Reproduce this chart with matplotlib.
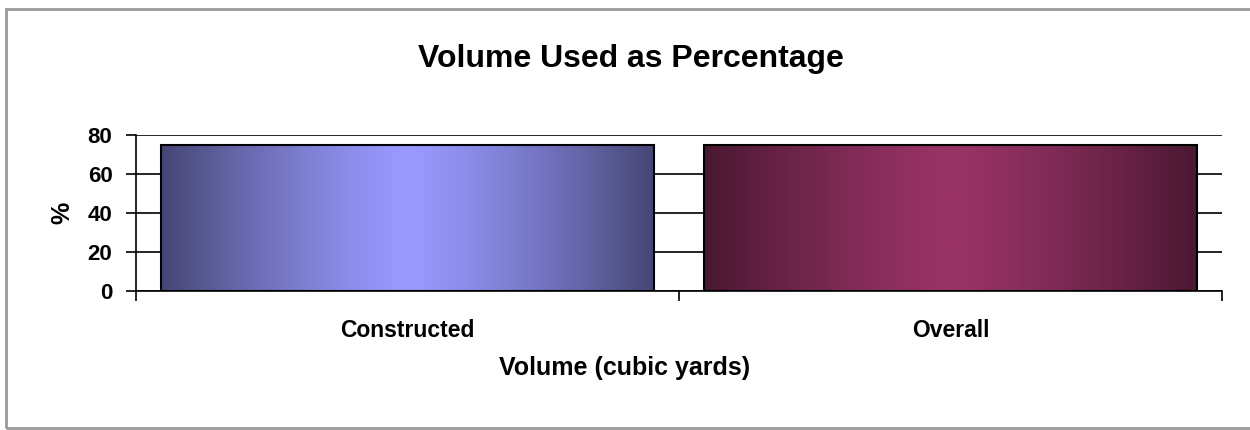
import matplotlib.pyplot as plt
import numpy as np
from matplotlib.patches import Rectangle
from matplotlib.colors import LinearSegmentedColormap

plt.rcParams['font.family'] = ['Liberation Sans', 'DejaVu Sans']
plt.rcParams['font.weight'] = 'bold'

categories = ['Constructed', 'Overall']
values = [75, 75]
light_colors = ['#9999ff', '#993366']
dark_colors = ['#464675', '#491831']
yticks = [0, 20, 40, 60, 80]

fig = plt.figure(figsize=(12.5, 4.3), dpi=100)
ax = fig.add_axes([136 / 1250, 1 - 291 / 430, (1222 - 136) / 1250, (291 - 135) / 430])

# gray frame around the chart (cut off at the right edge)
fig.patches.append(Rectangle((6 / 1250, 1 - 428 / 430), 1.5, 419 / 430,
                             transform=fig.transFigure, fill=False,
                             edgecolor='#999999', linewidth=2))

x = np.arange(len(categories))
width = 0.908
bars = ax.bar(x, values, width=width, facecolor='none', edgecolor='black',
              linewidth=1.5, zorder=3)

# horizontal gradient: dark at the edges, light in the middle
grad = 1 - np.abs(np.linspace(-1, 1, 256)) ** 1.3
for b, lc, dc in zip(bars, light_colors, dark_colors):
    cmap = LinearSegmentedColormap.from_list('g', [dc, lc])
    im = ax.imshow(grad[np.newaxis, :], cmap=cmap, aspect='auto',
                   extent=[b.get_x(), b.get_x() + b.get_width(), 0, b.get_height()],
                   zorder=2)
    im.set_clip_path(b)

ax.set_xlim(-0.5, 1.5)
ax.set_ylim(0, 80)
ax.set_yticks(yticks)
ax.yaxis.grid(True, color='black', linewidth=1.2, zorder=0)
ax.set_axisbelow(True)

ax.set_xticks([-0.5, 0.5, 1.5])
ax.set_xticklabels([])
ax.set_xticks(x, minor=True)
ax.set_xticklabels(categories, minor=True, fontsize=16.5, fontweight='bold')
ax.tick_params(axis='x', which='minor', length=0, pad=20)
ax.tick_params(axis='x', which='major', length=7, width=1.2, direction='out')
ax.tick_params(axis='y', length=7, width=1.2, direction='out', pad=10, labelsize=16)

for s in ['top', 'right']:
    ax.spines[s].set_visible(False)
ax.spines['left'].set_linewidth(1.2)
ax.spines['bottom'].set_linewidth(1.2)

fig.text(631 / 1250, 1 - 59 / 430, 'Volume Used as Percentage', fontsize=23,
         fontweight='bold', ha='center', va='center')
fig.text(625 / 1250, 1 - 368 / 430, 'Volume (cubic yards)', fontsize=18,
         fontweight='bold', ha='center', va='center')
fig.text(62 / 1250, 1 - 213 / 430, '%', fontsize=18, fontweight='bold',
         ha='center', va='center', rotation=90)

fig.savefig('out.png', dpi=100)
